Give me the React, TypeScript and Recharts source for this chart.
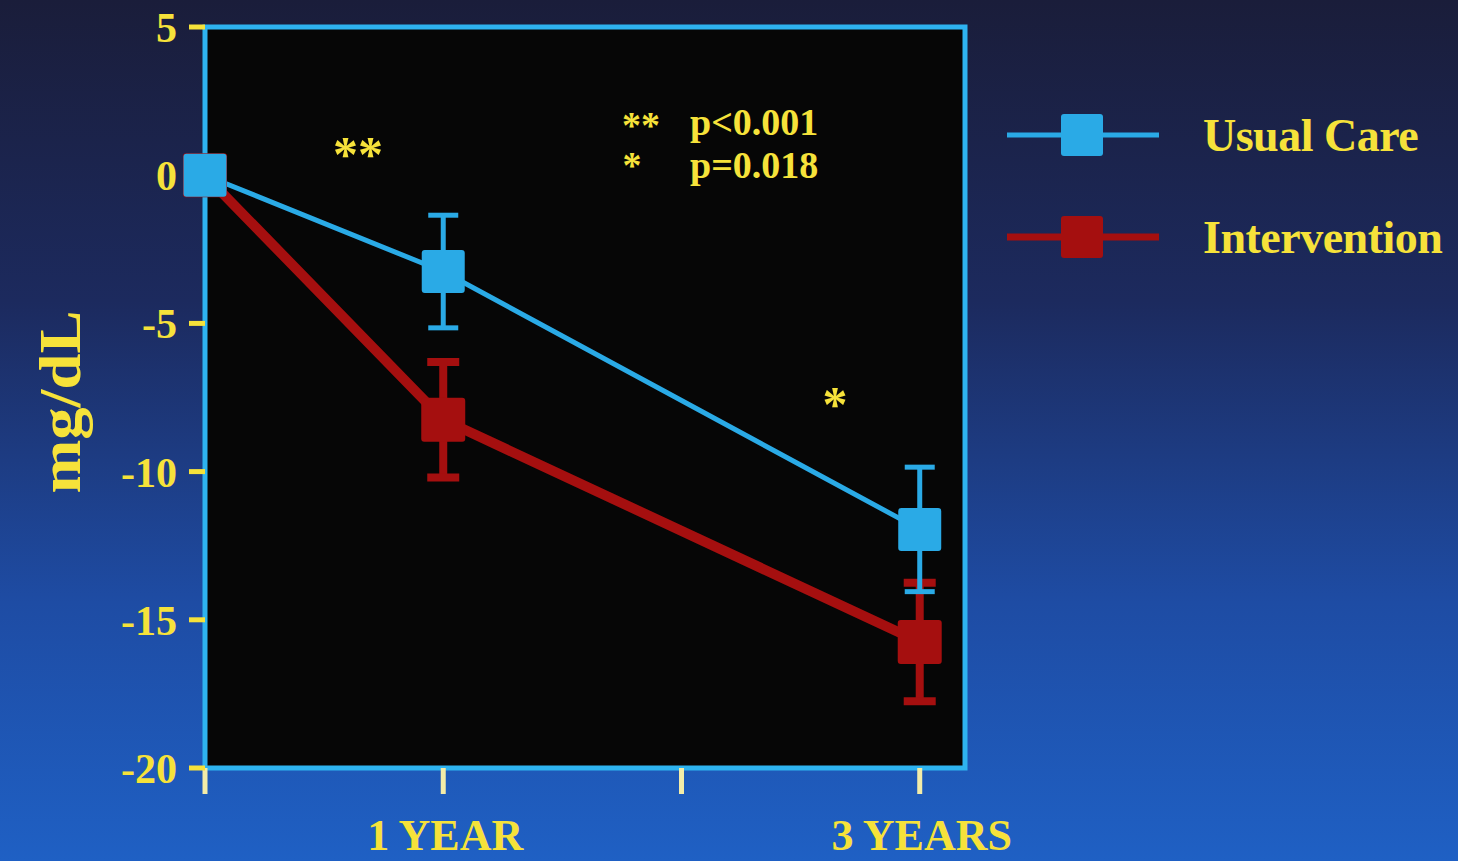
import React from 'react';
import { LineChart, Line, XAxis, YAxis, ErrorBar, ReferenceArea } from 'recharts';

// time since baseline (years)
const timepoints = [0, 1, 3];
// change in mg/dL, mean and error
const usualCare = [0, -3.25, -11.95];
const usualCareErr = [0, 1.9, 2.1];
const intervention = [0, -8.25, -15.75];
const interventionErr = [0, 1.95, 2.0];

const yTicks = [5, 0, -5, -10, -15, -20];
const xTicks = [0, 1, 2, 3];
const xTickLabels: Record<number, string> = { 1: '1 YEAR', 3: '3 YEARS' };

const seriesNames = ['Usual Care', 'Intervention'];
const pValues = ['p<0.001', 'p=0.018'];

const BLUE = '#2aaae6';
const RED = '#a50f0f';
const YELLOW = '#f6e23a';
const FONT = '"Liberation Serif", "Times New Roman", serif';

const data = timepoints.map((t, i) => ({
  t,
  usual: usualCare[i],
  usualErr: usualCareErr[i],
  interv: intervention[i],
  intervErr: interventionErr[i],
}));

const square = (color: string, size: number) => (props: any) => {
  const { cx, cy, key } = props;
  if (cx == null || cy == null) return <g key={key} />;
  return <rect key={key} x={cx - size / 2} y={cy - size / 2} width={size} height={size} rx={3} fill={color} />;
};

const XTick = (props: any) => {
  const { x, y, payload } = props;
  const label = xTickLabels[payload.value];
  if (!label) return <g />;
  return (
    <text x={x + 2} y={y + 54} textAnchor="middle" fill={YELLOW} fontFamily={FONT} fontWeight="bold" fontSize={44}>
      {label}
    </text>
  );
};

const LegendBox = () => (
  <div style={{ position: 'absolute', left: 1005, top: 84, fontFamily: FONT }}>
    {seriesNames.map((name, i) => {
      const color = i === 0 ? BLUE : RED;
      return (
        <div key={name} style={{ display: 'flex', alignItems: 'center', height: 102 }}>
          <svg width={156} height={50}>
            <line x1={2} y1={25} x2={154} y2={25} stroke={color} strokeWidth={i === 0 ? 5 : 7} />
            <rect x={56} y={4} width={42} height={42} rx={3} fill={color} />
          </svg>
          <span style={{ marginLeft: 42, color: YELLOW, fontSize: 46, fontWeight: 'bold', letterSpacing: -0.5 }}>{name}</span>
        </div>
      );
    })}
  </div>
);

const Annotations = () => (
  <svg width={1458} height={861} style={{ position: 'absolute', left: 0, top: 0, pointerEvents: 'none' }}>
    <g fontFamily={FONT} fontWeight="bold" fill={YELLOW}>
      <text x={358} y={171} textAnchor="middle" fontSize={50}>**</text>
      <text x={641} y={138} textAnchor="middle" fontSize={38}>**</text>
      <text x={632} y={178} textAnchor="middle" fontSize={38}>*</text>
      <text x={690} y={135} fontSize={38}>{pValues[0]}</text>
      <text x={690} y={178} fontSize={38}>{pValues[1]}</text>
      <text x={835} y={421} textAnchor="middle" fontSize={50}>*</text>
      <text
        x={0}
        y={0}
        transform="translate(80,402) rotate(-90)"
        textAnchor="middle"
        fontSize={60}
        textLength={183}
        lengthAdjust="spacingAndGlyphs"
      >
        mg/dL
      </text>
    </g>
  </svg>
);

export default function App() {
  return (
    <div
      style={{
        position: 'absolute',
        left: 0,
        top: 0,
        width: 1458,
        height: 861,
        background: 'linear-gradient(180deg, #1a1d3a 0%, #1c2a5e 35%, #1e4ca4 70%, #1f60c4 100%)',
        overflow: 'hidden',
      }}
    >
      <LineChart width={1458} height={861} data={data} margin={{ top: 27, right: 493, left: 0, bottom: 0 }}>
        <XAxis
          type="number"
          dataKey="t"
          domain={[0, 3.19]}
          ticks={xTicks}
          axisLine={false}
          tickLine={{ stroke: '#f3eca8', strokeWidth: 5 }}
          tickSize={26}
          tick={<XTick />}
          height={93}
        />
        <YAxis
          type="number"
          domain={[-20, 5]}
          ticks={yTicks}
          axisLine={false}
          tickLine={{ stroke: YELLOW, strokeWidth: 5 }}
          tickSize={16}
          tickMargin={12}
          tick={{ fill: YELLOW, fontSize: 42, fontWeight: 'bold', fontFamily: FONT }}
          width={205}
        />
        <ReferenceArea x1={0} x2={3.19} y1={-20} y2={5} fill="#060606" fillOpacity={1} stroke="#2eb3f0" strokeWidth={5} />
        <Line
          dataKey="interv"
          name={seriesNames[1]}
          stroke={RED}
          strokeWidth={10}
          dot={square(RED, 44)}
          activeDot={false}
          isAnimationActive={false}
        >
          <ErrorBar dataKey="intervErr" width={16} stroke={RED} strokeWidth={8} direction="y" />
        </Line>
        <Line
          dataKey="usual"
          name={seriesNames[0]}
          stroke={BLUE}
          strokeWidth={5}
          dot={square(BLUE, 43)}
          activeDot={false}
          isAnimationActive={false}
        >
          <ErrorBar dataKey="usualErr" width={15} stroke={BLUE} strokeWidth={5} direction="y" />
        </Line>
      </LineChart>
      <LegendBox />
      <Annotations />
    </div>
  );
}
